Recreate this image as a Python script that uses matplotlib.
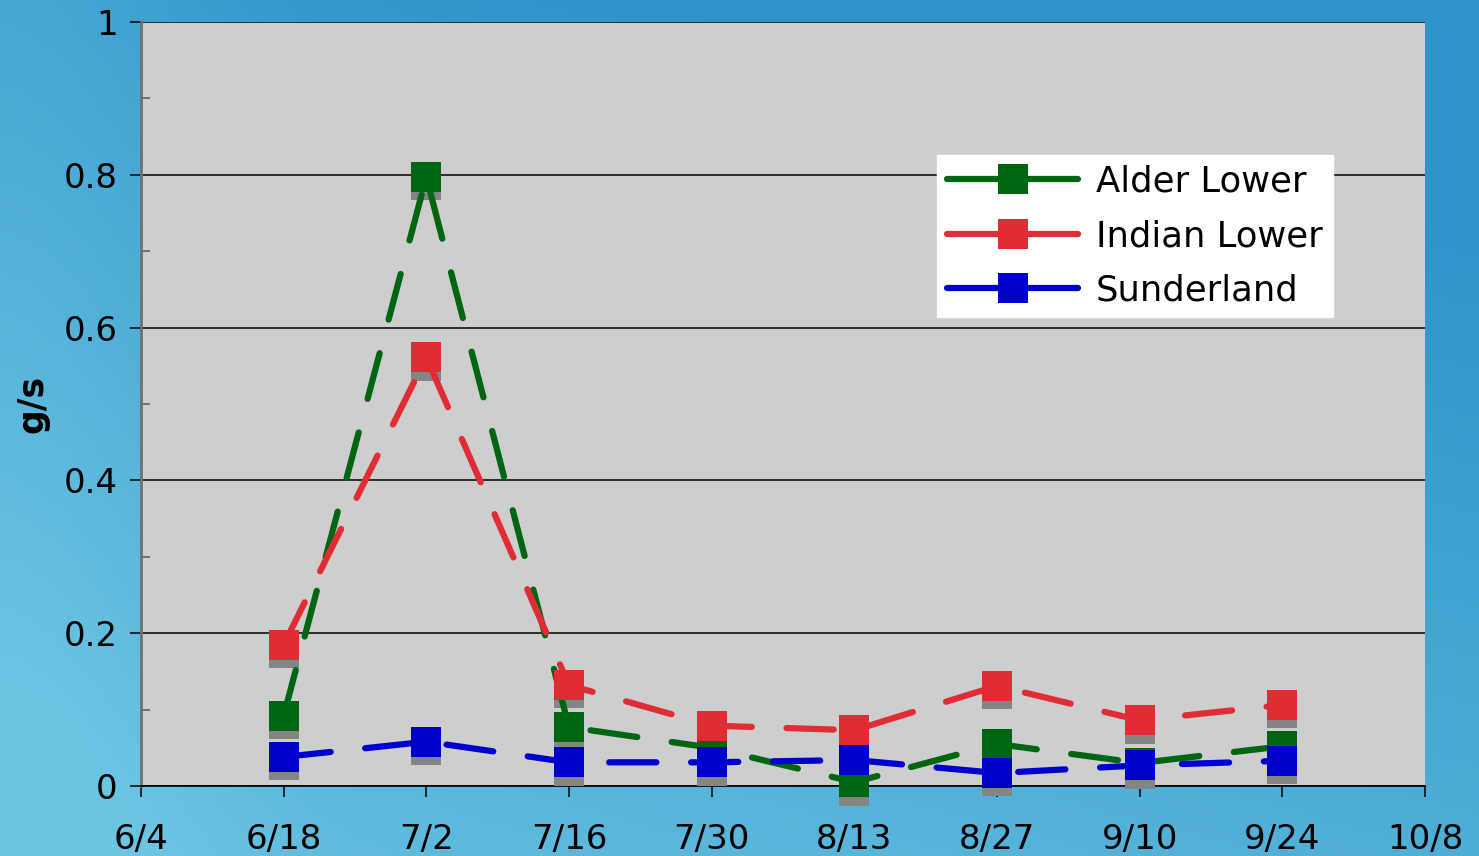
import numpy as np
import matplotlib
matplotlib.use("Agg")
import matplotlib.pyplot as plt
import matplotlib.transforms as mtransforms
from matplotlib.lines import Line2D
from datetime import date

# ---- data ----
dates = ["6/18", "7/2", "7/16", "7/30", "8/13", "8/27", "9/10", "9/24"]
alder_lower = [0.092, 0.797, 0.077, 0.050, 0.005, 0.055, 0.030, 0.052]
indian_lower = [0.185, 0.561, 0.132, 0.079, 0.073, 0.131, 0.086, 0.106]
sunderland = [0.038, 0.058, 0.031, 0.031, 0.034, 0.017, 0.027, 0.033]
series_names = ["Alder Lower", "Indian Lower", "Sunderland"]
x_tick_labels = ["6/4", "6/18", "7/2", "7/16", "7/30", "8/13", "8/27", "9/10", "9/24", "10/8"]
y_ticks = [0, 0.2, 0.4, 0.6, 0.8, 1]
y_tick_labels = ["0", "0.2", "0.4", "0.6", "0.8", "1"]

YEAR = 2008
def to_date(s):
    m, d = s.split("/")
    return date(YEAR, int(m), int(d))

xd = [to_date(s) for s in dates]
xticks = [to_date(s) for s in x_tick_labels]

colors = ["#006612", "#e02d35", "#0000cc"]
values = [alder_lower, indian_lower, sunderland]

plt.rcParams["lines.scale_dashes"] = False
plt.rcParams["font.family"] = ["DejaVu Sans"]

fig = plt.figure(figsize=(14.79, 8.56), dpi=100)

# background gradient (blue water look)
bg = fig.add_axes([0, 0, 1, 1], zorder=-10)
H, W = 200, 350
yy, xx = np.mgrid[0:1:H * 1j, 0:1:W * 1j]
c_light = np.array([0.42, 0.77, 0.89])
c_dark = np.array([0.18, 0.58, 0.79])
t = np.clip(0.35 * xx + 0.75 * (1 - yy) - 0.25 * np.exp(-((xx - 0.0) ** 2) / 0.02) + 0.1, 0, 1)
img = c_light[None, None, :] * (1 - t[..., None]) + c_dark[None, None, :] * t[..., None]
bg.imshow(img, aspect="auto", extent=[0, 1, 0, 1], origin="upper")
bg.set_axis_off()

ax = fig.add_axes([141 / 1479, 1 - 786 / 856, (1425 - 141) / 1479, (786 - 22) / 856])
ax.set_facecolor("#cecece")

ax.set_ylim(0, 1)
ax.set_xlim(xticks[0], xticks[-1])
ax.set_yticks(y_ticks)
ax.set_yticklabels(y_tick_labels)
ax.set_yticks([0.1, 0.3, 0.5, 0.7, 0.9], minor=True)
ax.set_xticks(xticks)
ax.set_xticklabels(x_tick_labels)

ax.yaxis.grid(True, which="major", color="black", linewidth=1.1, zorder=1)
ax.set_axisbelow(True)
ax.tick_params(axis="y", which="major", direction="out", length=8, width=1.1,
               labelsize=24.5, pad=9, color="black")
ax.tick_params(axis="y", which="minor", direction="in", length=6.5, width=1.1, color="#555555")
ax.tick_params(axis="x", which="major", direction="out", length=8, width=1.1,
               labelsize=24.5, pad=19, color="black")
for s in ["top", "right"]:
    ax.spines[s].set_visible(False)
ax.spines["left"].set_color("#707070")
ax.spines["left"].set_linewidth(2)
ax.spines["bottom"].set_color("black")
ax.spines["bottom"].set_linewidth(1.2)

ax.set_ylabel("g/s", fontsize=25, fontweight="bold", labelpad=10)

shadow_tr = mtransforms.offset_copy(ax.transData, fig=fig, x=0, y=-6, units="points")
ms = 21
for vals, col in zip(values, colors):
    ax.plot(xd, vals, linestyle="none", marker="s", markersize=ms, color="#858585",
            markeredgewidth=0, transform=shadow_tr, zorder=3, clip_on=False)
for vals, col in zip(values, colors):
    ax.plot(xd, vals, color=col, linewidth=4.5, dashes=(34, 25),
            dash_capstyle="round", zorder=4, clip_on=False)
    ax.plot(xd, vals, linestyle="none", marker="s", markersize=ms, color=col,
            markeredgewidth=0, zorder=5, clip_on=False)

handles = [Line2D([0], [0], color=c, linewidth=4.5, marker="s", markersize=ms,
                  markeredgewidth=0, solid_capstyle="round") for c in colors]
leg = ax.legend(handles, series_names, loc="upper right", bbox_to_anchor=(0.928, 0.826),
                fontsize=25.5, frameon=True, fancybox=False, framealpha=1,
                handlelength=3.7, handletextpad=0.5, labelspacing=0.57,
                borderpad=0.28, borderaxespad=0)
leg.get_frame().set_facecolor("white")
leg.get_frame().set_edgecolor("white")
leg.set_zorder(10)

fig.savefig("out.png", dpi=100)
